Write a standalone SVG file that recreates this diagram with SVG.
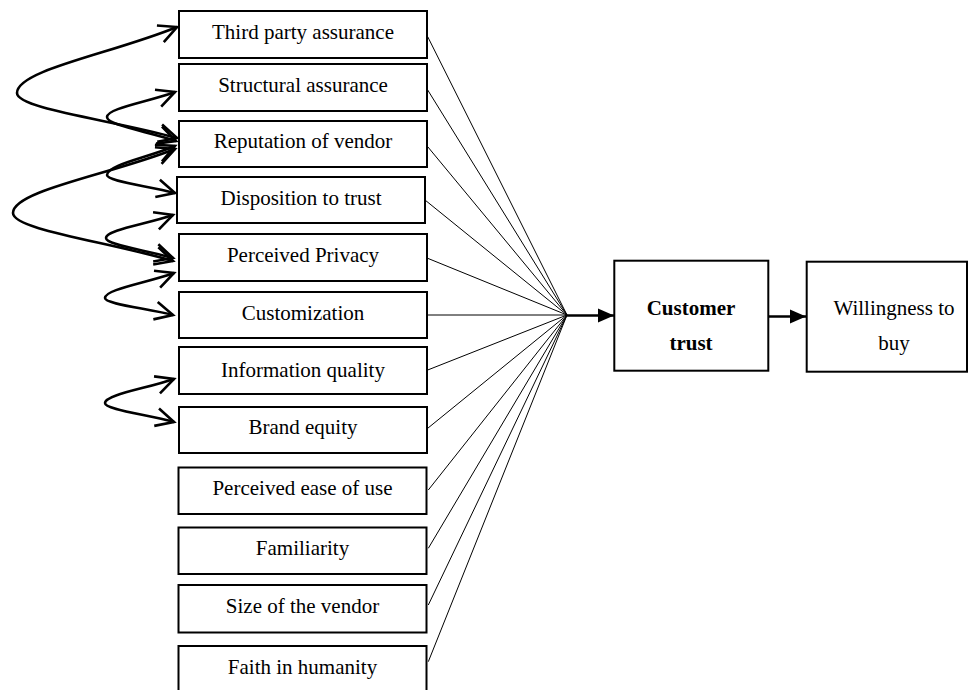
<svg xmlns="http://www.w3.org/2000/svg" width="968" height="690" viewBox="0 0 968 690">
<style>
.box{fill:#fff;stroke:#000;stroke-width:2}
.t{font-family:"Liberation Serif","Times New Roman",serif;font-size:21px;fill:#000;text-anchor:middle}
.b{font-weight:bold}
.fan{stroke:#000;stroke-width:1;fill:none}
.cv{stroke:#000;stroke-width:2.6;fill:none;marker-start:url(#open);marker-end:url(#open)}
.thick{stroke:#000;stroke-width:2.6;fill:none;marker-end:url(#solid)}
</style>
<defs>
<marker id="open" markerUnits="userSpaceOnUse" viewBox="-24 -14 30 28" refX="0" refY="0" markerWidth="30" markerHeight="28" orient="auto-start-reverse" overflow="visible">
<path d="M-18,-9 L0,0 L-18,9" fill="none" stroke="#000" stroke-width="2.6"/>
</marker>
<marker id="solid" markerUnits="userSpaceOnUse" viewBox="-16 -8 16 16" refX="0" refY="0" markerWidth="16" markerHeight="16" orient="auto">
<path d="M-16,-7 L0,0 L-16,7 Z" fill="#000"/>
</marker>
</defs>

<g id="connectors">
<line class="fan" x1="427.7" y1="36.7" x2="567" y2="315"/>
<line class="fan" x1="427.7" y1="90" x2="567" y2="315"/>
<line class="fan" x1="427.7" y1="146.7" x2="567" y2="315"/>
<line class="fan" x1="425" y1="200" x2="567" y2="315"/>
<line class="fan" x1="427.7" y1="258.3" x2="567" y2="315"/>
<line class="fan" x1="427.7" y1="315" x2="567" y2="315"/>
<line class="fan" x1="427.7" y1="370" x2="567" y2="315"/>
<line class="fan" x1="427.7" y1="428.3" x2="567" y2="315"/>
<line class="fan" x1="428.3" y1="490" x2="567" y2="315"/>
<line class="fan" x1="428.3" y1="548.3" x2="567" y2="315"/>
<line class="fan" x1="428.3" y1="605" x2="567" y2="315"/>
<line class="fan" x1="428.3" y1="661.7" x2="567" y2="315"/>
<line class="thick" x1="566" y1="315.5" x2="614" y2="315.5"/>
<line class="thick" x1="768" y1="316.5" x2="806" y2="316.5"/>
<path class="cv" d="M177,27 C113,53.4 17,69.9 17,93 C17,108.8 113,120 177,138"/>
<path class="cv" d="M175,92 C147.8,102 107,108.3 107,117 C107,125.4 148.4,131.4 176,141"/>
<path class="cv" d="M175,149 C110.2,174.6 13,190.6 13,213 C13,229.8 109,241.8 173,261"/>
<path class="cv" d="M175,146 C147.8,157.6 107,164.9 107,175 C107,181.3 147.8,185.8 175,193"/>
<path class="cv" d="M173,215 C146.2,224.2 106,230 106,238 C106,245 146.2,250 173,258"/>
<path class="cv" d="M174,273 C146.4,283 105,289.3 105,298 C105,304 145.8,308.2 173,315"/>
<path class="cv" d="M174,379 C146.4,388.6 105,394.6 105,403 C105,409.7 146.4,414.4 174,422"/>
</g>

<g id="n1"><rect class="box" x="179" y="11" width="248" height="47"/><text class="t" x="303" y="39">Third party assurance</text></g>
<g id="n2"><rect class="box" x="179" y="64" width="248" height="47"/><text class="t" x="303" y="92">Structural assurance</text></g>
<g id="n3"><rect class="box" x="179" y="121" width="248" height="46"/><text class="t" x="303" y="148">Reputation of vendor</text></g>
<g id="n4"><rect class="box" x="177" y="177" width="248" height="46"/><text class="t" x="301" y="205">Disposition to trust</text></g>
<g id="n5"><rect class="box" x="179" y="234" width="248" height="47"/><text class="t" x="303" y="262">Perceived Privacy</text></g>
<g id="n6"><rect class="box" x="179" y="292" width="248" height="46"/><text class="t" x="303" y="320">Customization</text></g>
<g id="n7"><rect class="box" x="179" y="347" width="248" height="47"/><text class="t" x="303" y="377">Information quality</text></g>
<g id="n8"><rect class="box" x="179" y="407" width="248" height="46"/><text class="t" x="303" y="434">Brand equity</text></g>
<g id="n9"><rect class="box" x="178.5" y="467.5" width="248" height="46.5"/><text class="t" x="302.5" y="495">Perceived ease of use</text></g>
<g id="n10"><rect class="box" x="178.5" y="527.5" width="248" height="46.5"/><text class="t" x="302.5" y="555">Familiarity</text></g>
<g id="n11"><rect class="box" x="178.5" y="585" width="248" height="47.5"/><text class="t" x="302.5" y="613">Size of the vendor</text></g>
<g id="n12"><rect class="box" x="178.5" y="646" width="248" height="50"/><text class="t" x="302.5" y="674">Faith in humanity</text></g>
<g id="n13"><rect class="box" x="614.3" y="260.7" width="154" height="110"/><text class="t b" x="691" y="315">Customer</text><text class="t b" x="691" y="350">trust</text></g>
<g id="n14"><rect class="box" x="806.7" y="261.7" width="160.3" height="110"/><text class="t" x="894" y="315">Willingness to</text><text class="t" x="894" y="350">buy</text></g>
</svg>
